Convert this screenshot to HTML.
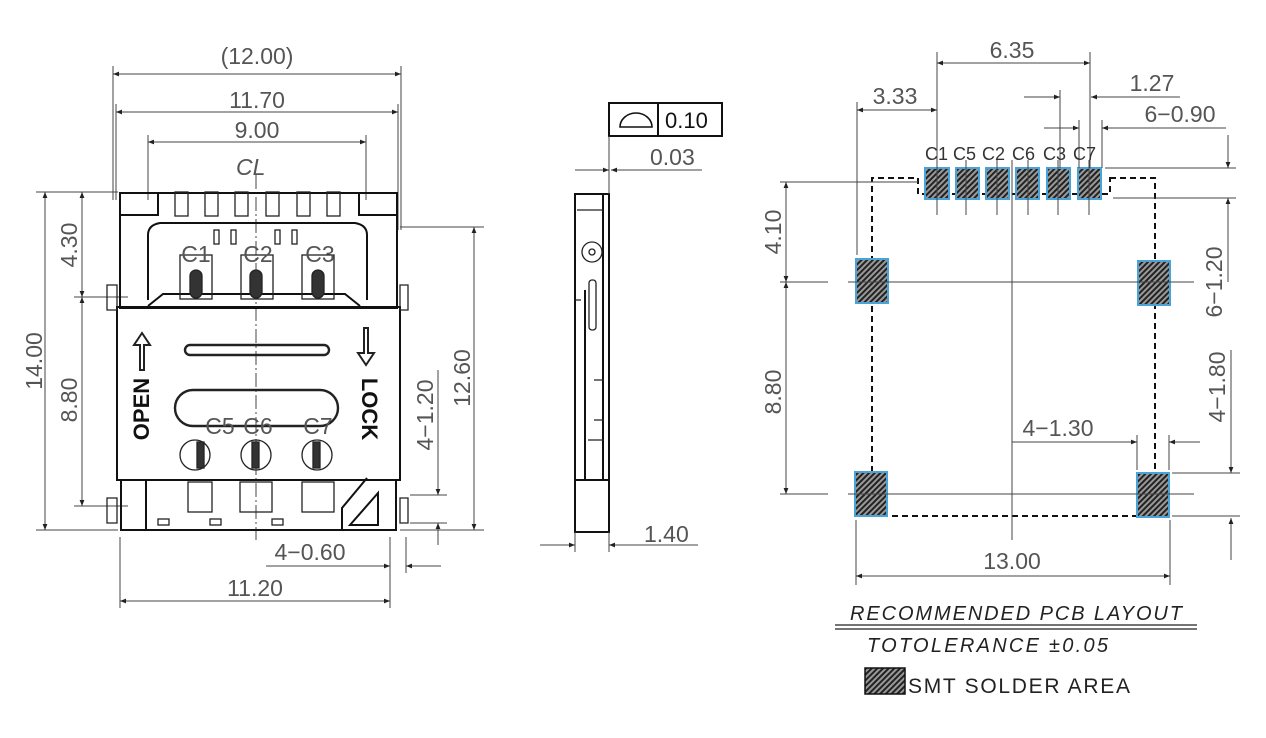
<!DOCTYPE html>
<html><head><meta charset="utf-8"><style>
html,body{margin:0;padding:0;background:#fff;}
svg{display:block;}
.t{font-family:"Liberation Sans",sans-serif;fill:#555;font-size:23px;}
.b{fill:none;stroke:#111;stroke-width:2;}
.n{fill:none;stroke:#222;stroke-width:1.3;}
.d{fill:none;stroke:#444;stroke-width:1;}
</style></head><body>
<svg width="1266" height="738" viewBox="0 0 1266 738" xmlns="http://www.w3.org/2000/svg">
<defs>
<marker id="a" viewBox="0 0 10 10" refX="10" refY="5" markerWidth="14" markerHeight="6" markerUnits="userSpaceOnUse" orient="auto-start-reverse"><path d="M0,1 L10,5 L0,9z" fill="#222"/></marker>
<pattern id="h" width="4" height="4" patternUnits="userSpaceOnUse" patternTransform="rotate(45)"><rect width="4" height="4" fill="#999"/><rect width="2" height="4" fill="#222"/></pattern>
</defs>

<!-- ===== LEFT VIEW ===== -->
<g class="d">
<line x1="113" y1="66" x2="113" y2="200"/><line x1="401" y1="66" x2="401" y2="230"/>
<line x1="116" y1="104" x2="116" y2="200"/><line x1="398" y1="104" x2="398" y2="230"/>
<line x1="148" y1="135" x2="148" y2="200"/><line x1="366" y1="135" x2="366" y2="200"/>
<line x1="113" y1="74" x2="401" y2="74" marker-start="url(#a)" marker-end="url(#a)"/>
<line x1="116" y1="112" x2="398" y2="112" marker-start="url(#a)" marker-end="url(#a)"/>
<line x1="148" y1="142" x2="366" y2="142" marker-start="url(#a)" marker-end="url(#a)"/>
<line x1="36" y1="192" x2="118" y2="192"/><line x1="36" y1="530" x2="118" y2="530"/>
<line x1="45" y1="192" x2="45" y2="530" marker-start="url(#a)" marker-end="url(#a)"/>
<line x1="74" y1="297" x2="128" y2="297"/><line x1="74" y1="506" x2="128" y2="506"/>
<line x1="82" y1="192" x2="82" y2="297" marker-start="url(#a)" marker-end="url(#a)"/>
<line x1="82" y1="297" x2="82" y2="506" marker-start="url(#a)" marker-end="url(#a)"/>
<line x1="400" y1="227" x2="484" y2="227"/><line x1="400" y1="530" x2="484" y2="530"/>
<line x1="474" y1="227" x2="474" y2="530" marker-start="url(#a)" marker-end="url(#a)"/>
<line x1="410" y1="495" x2="447" y2="495"/><line x1="410" y1="523" x2="447" y2="523"/>
<line x1="438" y1="370" x2="438" y2="495" marker-end="url(#a)"/>
<line x1="438" y1="545" x2="438" y2="523" marker-end="url(#a)"/>
<line x1="120" y1="537" x2="120" y2="608"/><line x1="390" y1="537" x2="390" y2="608"/>
<line x1="406" y1="537" x2="406" y2="573"/>
<line x1="266" y1="566" x2="390" y2="566" marker-end="url(#a)"/>
<line x1="441" y1="566" x2="406" y2="566" marker-end="url(#a)"/>
<line x1="120" y1="601" x2="390" y2="601" marker-start="url(#a)" marker-end="url(#a)"/>
<line x1="256" y1="175" x2="256" y2="540" stroke-dasharray="14 3 2 3"/>
</g>
<text class="t" x="257" y="64" text-anchor="middle">(12.00)</text>
<text class="t" x="257" y="108" text-anchor="middle">11.70</text>
<text class="t" x="257" y="138" text-anchor="middle">9.00</text>
<text class="t" x="236" y="175" font-style="italic" font-size="18">CL</text>
<text class="t" x="42" y="361" transform="rotate(-90 42 361)" text-anchor="middle">14.00</text>
<text class="t" x="77" y="245" transform="rotate(-90 77 245)" text-anchor="middle">4.30</text>
<text class="t" x="77" y="400" transform="rotate(-90 77 400)" text-anchor="middle">8.80</text>
<text class="t" x="470" y="378" transform="rotate(-90 470 378)" text-anchor="middle">12.60</text>
<text class="t" x="433" y="415" transform="rotate(-90 433 415)" text-anchor="middle">4−1.20</text>
<text class="t" x="310" y="560" text-anchor="middle">4−0.60</text>
<text class="t" x="255" y="596" text-anchor="middle">11.20</text>

<!-- body -->
<g class="b">
<rect x="120" y="193" width="277" height="115"/>
<rect x="117" y="307" width="283" height="173"/>
<rect x="121" y="480" width="275" height="50"/>
<path d="M120,193 h38 v22 h-38"/><path d="M397,193 h-38 v22 h38"/>
<path d="M148,300 V235 q0,-10 12,-12 H355 q12,2 12,12 V300"/>
<path d="M148,306 l15,-12 H345 l15,12"/>
<line x1="146" y1="480" x2="146" y2="530"/>
<path d="M342,530 v-22 l25,-30 M350,525 l28,-32 v32 z"/>
</g>
<g class="n">
<rect x="175" y="192" width="13" height="24"/><rect x="205" y="192" width="13" height="24"/><rect x="235" y="192" width="13" height="24"/><rect x="266" y="192" width="13" height="24"/><rect x="297" y="192" width="13" height="24"/><rect x="327" y="192" width="13" height="24"/>
<rect x="180" y="255" width="32" height="44"/><rect x="241" y="255" width="32" height="44"/><rect x="302" y="255" width="32" height="44"/>
<rect x="190" y="270" width="12" height="28" rx="6" fill="#333"/><rect x="250" y="270" width="12" height="28" rx="6" fill="#333"/><rect x="312" y="270" width="12" height="28" rx="6" fill="#333"/>
<rect x="214" y="230" width="5" height="14"/><rect x="231" y="230" width="5" height="14"/><rect x="275" y="230" width="5" height="14"/><rect x="292" y="230" width="5" height="14"/>
<rect x="185" y="345" width="144" height="10" rx="5" stroke-width="2.4"/>
<rect x="175" y="390" width="163" height="36" rx="18" stroke-width="2.4"/>
<circle cx="195" cy="455" r="15"/><circle cx="256" cy="455" r="15"/><circle cx="317" cy="455" r="15"/>
<rect x="197" y="442" width="7" height="26" fill="#333"/><rect x="252" y="442" width="7" height="26" fill="#333"/><rect x="313" y="442" width="7" height="26" fill="#333"/>
<rect x="188" y="482" width="24" height="30"/><rect x="240" y="482" width="32" height="30"/><rect x="302" y="482" width="32" height="30"/>
<rect x="158" y="519" width="11" height="6"/><rect x="210" y="519" width="11" height="6"/><rect x="272" y="519" width="11" height="6"/>
<path d="M140,370 v-25 h-6 l8,-12 l8,12 h-6 v25z" stroke-width="2"/>
<path d="M364,328 v25 h-6 l8,12 l8,-12 h-6 v-25z" stroke-width="2"/>
<path d="M107,285 h10 v25 h-10z M107,498 h10 v25 h-10z M400,285 h8 v25 h-8z M400,498 h8 v25 h-8z"/>
</g>
<text x="149" y="409" transform="rotate(-90 149 409)" text-anchor="middle" font-family="Liberation Sans" font-size="22" font-weight="bold" fill="#111">OPEN</text>
<text x="362" y="409" transform="rotate(90 362 409)" text-anchor="middle" font-family="Liberation Sans" font-size="22" font-weight="bold" fill="#111">LOCK</text>
<text class="t" x="196" y="262" text-anchor="middle" font-size="18">C1</text>
<text class="t" x="258" y="262" text-anchor="middle" font-size="18">C2</text>
<text class="t" x="320" y="262" text-anchor="middle" font-size="18">C3</text>
<text class="t" x="220" y="434" text-anchor="middle" font-size="18">C5</text>
<text class="t" x="258" y="434" text-anchor="middle" font-size="18">C6</text>
<text class="t" x="318" y="434" text-anchor="middle" font-size="18">C7</text>

<!-- ===== SIDE VIEW ===== -->
<g class="b">
<rect x="575" y="194" width="34" height="338"/>
<line x1="603" y1="194" x2="603" y2="480"/><line x1="585" y1="290" x2="585" y2="480"/>
<line x1="575" y1="480" x2="609" y2="480"/>
</g>
<g class="n">
<circle cx="592" cy="252" r="10"/><circle cx="592" cy="252" r="3"/>
<rect x="589" y="280" width="7" height="50" rx="3"/>
<path d="M577,210 h26 M575,300 h6 M594,380 h10 M594,420 h10 M588,440 h16"/>
</g>
<rect x="609" y="103" width="113" height="33" fill="none" stroke="#111" stroke-width="2"/>
<line x1="658" y1="103" x2="658" y2="136" stroke="#111" stroke-width="2"/>
<path d="M620,127 a16,14 0 0 1 32,0 z" fill="none" stroke="#111" stroke-width="1.6"/>
<text x="665" y="128" font-family="Liberation Sans" font-size="22" fill="#111">0.10</text>
<line x1="609" y1="136" x2="609" y2="194" class="d"/>
<line class="d" x1="575" y1="170" x2="609" y2="170" marker-end="url(#a)"/>
<line class="d" x1="702" y1="170" x2="611" y2="170" marker-end="url(#a)"/>
<text class="t" x="650" y="165">0.03</text>
<line class="d" x1="575" y1="532" x2="575" y2="552"/><line class="d" x1="609" y1="532" x2="609" y2="552"/>
<line class="d" x1="540" y1="545" x2="575" y2="545" marker-end="url(#a)"/>
<line class="d" x1="698" y1="545" x2="609" y2="545" marker-end="url(#a)"/>
<text class="t" x="644" y="542">1.40</text>

<!-- ===== PCB LAYOUT ===== -->
<path d="M1110,178 H1155 V516 H872 V178 H918 V194 H1110 Z" fill="none" stroke="#111" stroke-width="2" stroke-dasharray="6 4"/>
<g stroke="#4aa3d8" stroke-width="2" fill="url(#h)">
<rect x="925" y="168" width="24" height="31"/><rect x="956" y="168" width="23" height="31"/><rect x="986" y="168" width="23" height="31"/><rect x="1016" y="168" width="23" height="31"/><rect x="1047" y="168" width="23" height="31"/><rect x="1078" y="168" width="23" height="31"/>
<rect x="856" y="259" width="32" height="44"/><rect x="1138" y="261" width="32" height="44"/>
<rect x="855" y="472" width="32" height="44"/><rect x="1137" y="473" width="32" height="44"/>
</g>
<g class="d">
<path d="M937,160 v55 M966,160 v55 M997,160 v55 M1028,160 v55 M1058,160 v55 M1089,160 v55"/>
<line x1="1012" y1="160" x2="1012" y2="540"/>
<line x1="780" y1="282" x2="828" y2="282"/><line x1="848" y1="282" x2="1194" y2="282"/>
<line x1="780" y1="494" x2="828" y2="494"/><line x1="848" y1="494" x2="1194" y2="494"/>
<line x1="780" y1="182" x2="918" y2="182"/>
<line x1="786" y1="182" x2="786" y2="282" marker-start="url(#a)" marker-end="url(#a)"/>
<line x1="786" y1="282" x2="786" y2="494" marker-start="url(#a)" marker-end="url(#a)"/>
<line x1="937" y1="52" x2="937" y2="168"/><line x1="1090" y1="52" x2="1090" y2="168"/>
<line x1="937" y1="63" x2="1090" y2="63" marker-start="url(#a)" marker-end="url(#a)"/>
<line x1="857" y1="102" x2="857" y2="255"/>
<line x1="857" y1="110" x2="937" y2="110" marker-start="url(#a)" marker-end="url(#a)"/>
<line x1="1060" y1="90" x2="1060" y2="168"/>
<line x1="1024" y1="97" x2="1060" y2="97" marker-end="url(#a)"/>
<line x1="1180" y1="97" x2="1091" y2="97" marker-end="url(#a)"/>
<line x1="1079" y1="120" x2="1079" y2="168"/><line x1="1102" y1="120" x2="1102" y2="168"/>
<line x1="1044" y1="128" x2="1079" y2="128" marker-end="url(#a)"/>
<line x1="1226" y1="128" x2="1102" y2="128" marker-end="url(#a)"/>
<line x1="1105" y1="168" x2="1236" y2="168"/><line x1="1113" y1="198" x2="1236" y2="198"/>
<line x1="1228" y1="135" x2="1228" y2="168" marker-end="url(#a)"/>
<line x1="1228" y1="198" x2="1228" y2="282" marker-start="url(#a)"/>
<line x1="1231" y1="350" x2="1231" y2="473" marker-end="url(#a)"/>
<line x1="1172" y1="473" x2="1240" y2="473"/><line x1="1172" y1="516" x2="1240" y2="516"/>
<line x1="1231" y1="560" x2="1231" y2="518" marker-end="url(#a)"/>
<line x1="1137" y1="435" x2="1137" y2="470"/><line x1="1169" y1="435" x2="1169" y2="470"/>
<line x1="1012" y1="442" x2="1137" y2="442" marker-end="url(#a)"/>
<line x1="1200" y1="442" x2="1169" y2="442" marker-end="url(#a)"/>
<line x1="856" y1="520" x2="856" y2="585"/><line x1="1170" y1="520" x2="1170" y2="585"/>
<line x1="856" y1="576" x2="1170" y2="576" marker-start="url(#a)" marker-end="url(#a)"/>
</g>
<text class="t" x="1012" y="58" text-anchor="middle">6.35</text>
<text class="t" x="895" y="104" text-anchor="middle">3.33</text>
<text class="t" x="1152" y="91" text-anchor="middle">1.27</text>
<text class="t" x="1180" y="122" text-anchor="middle">6−0.90</text>
<g font-family="Liberation Sans" font-size="18" fill="#333">
<text x="925" y="160">C1</text><text x="953" y="160">C5</text><text x="982" y="160">C2</text><text x="1012" y="160">C6</text><text x="1043" y="160">C3</text><text x="1073" y="160">C7</text>
</g>
<text class="t" x="781" y="232" transform="rotate(-90 781 232)" text-anchor="middle">4.10</text>
<text class="t" x="781" y="392" transform="rotate(-90 781 392)" text-anchor="middle">8.80</text>
<text class="t" x="1222" y="282" transform="rotate(-90 1222 282)" text-anchor="middle">6−1.20</text>
<text class="t" x="1225" y="387" transform="rotate(-90 1225 387)" text-anchor="middle">4−1.80</text>
<text class="t" x="1058" y="436" text-anchor="middle">4−1.30</text>
<text class="t" x="1012" y="569" text-anchor="middle">13.00</text>

<text x="850" y="620" font-family="Liberation Sans" font-style="italic" font-size="20" fill="#222" textLength="332">RECOMMENDED  PCB  LAYOUT</text>
<line x1="835" y1="625" x2="1197" y2="625" stroke="#222" stroke-width="1.3"/>
<line x1="835" y1="629" x2="1197" y2="629" stroke="#222" stroke-width="1.3"/>
<text x="867" y="652" font-family="Liberation Sans" font-style="italic" font-size="20" fill="#222" textLength="241">TOTOLERANCE  ±0.05</text>
<rect x="865" y="668" width="40" height="26" fill="url(#h)" stroke="#111" stroke-width="1.5"/>
<text x="908" y="693" font-family="Liberation Sans" font-size="21" fill="#222" textLength="222">SMT  SOLDER  AREA</text>
</svg>
</body></html>
